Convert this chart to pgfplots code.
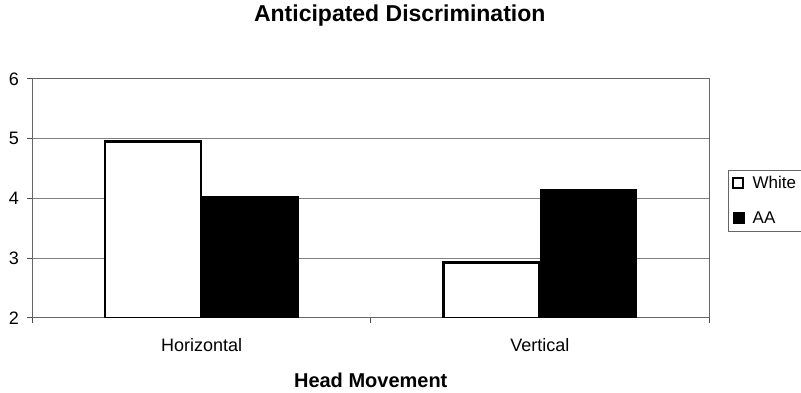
\documentclass[border=0pt]{standalone}
\usepackage{fontspec}
\setmainfont{Liberation Sans}
\usepackage{pgfplots}
\pgfplotsset{compat=1.18}
\begin{document}
\begin{tikzpicture}[x=1pt,y=1pt]
\useasboundingbox (-32.5,-75) rectangle (768.5,318);
\begin{axis}[
  at={(0,0)}, anchor=south west,
  width=676.5pt, height=239pt, scale only axis,
  xmin=-0.5, xmax=1.5, ymin=2, ymax=6,
  xtick={-0.5,0.5,1.5}, xticklabels={Horizontal,Vertical}, x tick label as interval,
  ytick={2,3,4,5,6},
  /pgf/number format/assume math mode=true,
  ymajorgrids, grid style={black!50, line width=1pt},
  axis line style={black!60, line width=1pt},
  tick style={black!70, line width=1pt},
  tick align=outside, major tick length=5pt,
  xtick pos=bottom, ytick pos=left,
  ticklabel style={font=\fontsize{18}{21}\selectfont},
  yticklabel style={xshift=-5pt},
  xticklabel style={yshift=-12pt},
  title={Anticipated Discrimination},
  title style={at={(axis description cs:0.5,1)}, anchor=base, xshift=29pt, yshift=51pt, font=\bfseries\fontsize{23}{26}\selectfont},
  xlabel={Head Movement},
  xlabel style={at={(axis description cs:0.5,0)}, anchor=base, yshift=-70pt, font=\bfseries\fontsize{20}{23}\selectfont},
  legend style={at={(1.028,0.49)}, anchor=west, draw=black!60, line width=1pt,
    font=\fontsize{17}{20}\selectfont, row sep=18pt, inner xsep=4pt, inner ysep=4pt},
  legend cell align=left,
]
\addplot[ybar, bar width=96pt, bar shift=-48.5pt, fill=white, draw=black, line width=2.5pt,
  legend image code/.code={\draw[fill=white, draw=black, line width=2pt] (0pt,-4.5pt) rectangle (10pt,5.5pt);
    \path (16pt,0pt);}]
  coordinates {(0,4.95) (1,2.93)};
\addlegendentry{White}
\addplot[ybar, bar width=96pt, bar shift=48.5pt, fill=black, draw=black, line width=1pt,
  legend image code/.code={\fill[black] (0pt,-4.5pt) rectangle (11pt,6pt);
    \path (16pt,0pt);}]
  coordinates {(0,4.03) (1,4.15)};
\addlegendentry{AA}
\end{axis}
\end{tikzpicture}
\end{document}
